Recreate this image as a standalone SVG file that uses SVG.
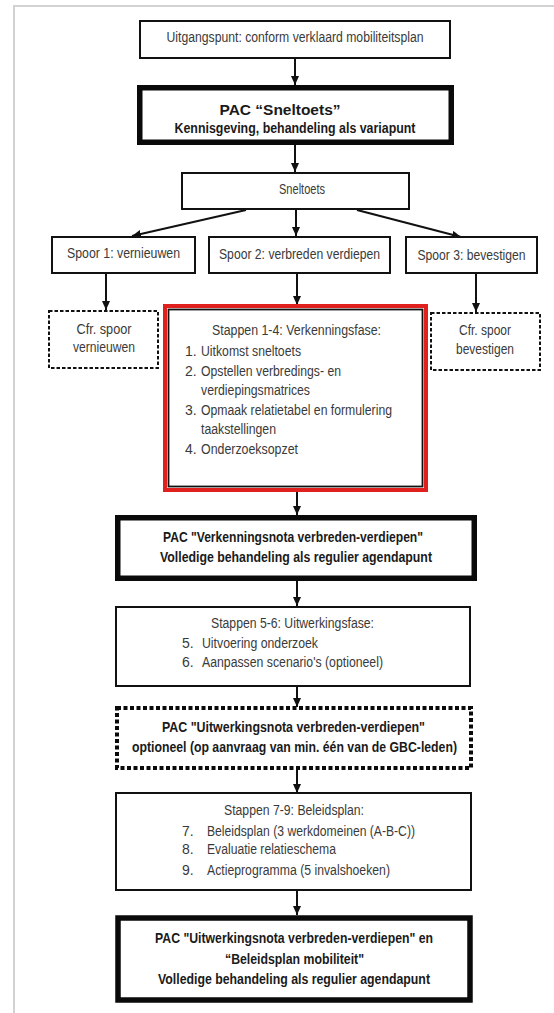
<svg xmlns="http://www.w3.org/2000/svg" width="554" height="1013" viewBox="0 0 554 1013">
<style>
.bx{fill:#fff;stroke:#111;stroke-width:2}
.thick{fill:#fff;stroke:#0a0a0a;stroke-width:5.5}
.dash{fill:#fff;stroke:#111;stroke-width:2;stroke-dasharray:3.5 2}
.dot{fill:#fff;stroke:#0a0a0a;stroke-width:4;stroke-dasharray:4 2.5}
.t{font-family:"Liberation Sans",Arial,sans-serif;font-size:14px;fill:#3a3a3a}
.b{font-family:"Liberation Sans",Arial,sans-serif;font-size:14px;font-weight:bold;fill:#1a1a1a}
.c{text-anchor:middle}
.ln{stroke:#111;stroke-width:2;fill:none}
.frame{stroke:#d2d2d2;stroke-width:2;fill:none}
</style>
<defs>
<marker id="ah" markerUnits="userSpaceOnUse" markerWidth="9" markerHeight="8" refX="9" refY="4" orient="auto">
<path d="M0,0 L9,4 L0,8 z" fill="#111"/>
</marker>
</defs>
<rect x="0" y="0" width="554" height="1013" fill="#fff"/>
<path class="frame" d="M14,1013 L14,6 L554,6"/>

<g id="connectors">
<line class="ln" x1="295" y1="59" x2="295" y2="85" marker-end="url(#ah)"/>
<line class="ln" x1="295" y1="145" x2="295" y2="172" marker-end="url(#ah)"/>
<line class="ln" x1="246" y1="210" x2="132" y2="236" marker-end="url(#ah)"/>
<line class="ln" x1="296" y1="210" x2="296" y2="236" marker-end="url(#ah)"/>
<line class="ln" x1="357" y1="210" x2="461" y2="237" marker-end="url(#ah)"/>
<line class="ln" x1="106" y1="274" x2="106" y2="310" marker-end="url(#ah)"/>
<line class="ln" x1="297" y1="274" x2="297" y2="305" marker-end="url(#ah)"/>
<line class="ln" x1="476" y1="274" x2="476" y2="312" marker-end="url(#ah)"/>
<line class="ln" x1="297" y1="492" x2="297" y2="515" marker-end="url(#ah)"/>
<line class="ln" x1="297" y1="581" x2="297" y2="606" marker-end="url(#ah)"/>
<line class="ln" x1="297" y1="687" x2="297" y2="707" marker-end="url(#ah)"/>
<line class="ln" x1="297" y1="770" x2="297" y2="793" marker-end="url(#ah)"/>
<line class="ln" x1="297" y1="891" x2="297" y2="915" marker-end="url(#ah)"/>
</g>

<g id="n1">
<rect class="bx" x="140" y="21" width="310" height="37"/>
<text class="t c" x="295" y="42" textLength="257" lengthAdjust="spacingAndGlyphs">Uitgangspunt: conform verklaard mobiliteitsplan</text>
</g>

<g id="n2">
<rect class="thick" x="139.75" y="87.75" width="311.5" height="54.5"/>
<text class="b c" x="280" y="115" textLength="121" lengthAdjust="spacingAndGlyphs">PAC “Sneltoets”</text>
<text class="b c" x="295" y="133" textLength="241" lengthAdjust="spacingAndGlyphs">Kennisgeving, behandeling als variapunt</text>
</g>

<g id="n3">
<rect class="bx" x="182" y="173" width="227" height="36"/>
<text class="t c" x="302" y="194" font-size="13" textLength="46" lengthAdjust="spacingAndGlyphs">Sneltoets</text>
</g>

<g id="n4">
<rect class="bx" x="52" y="237" width="143" height="36"/>
<text class="t c" x="123.5" y="258" textLength="113" lengthAdjust="spacingAndGlyphs">Spoor 1: vernieuwen</text>
</g>

<g id="n5">
<rect class="bx" x="209" y="237" width="181" height="36"/>
<text class="t c" x="299.5" y="259" textLength="161" lengthAdjust="spacingAndGlyphs">Spoor 2: verbreden verdiepen</text>
</g>

<g id="n6">
<rect class="bx" x="406" y="237" width="131" height="36"/>
<text class="t c" x="471.5" y="260" textLength="108" lengthAdjust="spacingAndGlyphs">Spoor 3: bevestigen</text>
</g>

<g id="n7">
<rect class="dash" x="49" y="311" width="109" height="57"/>
<text class="t c" x="104" y="334" textLength="55" lengthAdjust="spacingAndGlyphs">Cfr. spoor</text>
<text class="t c" x="104" y="352" textLength="62" lengthAdjust="spacingAndGlyphs">vernieuwen</text>
</g>

<g id="n8">
<rect class="dash" x="431" y="313" width="109" height="57"/>
<text class="t c" x="485" y="335" textLength="52" lengthAdjust="spacingAndGlyphs">Cfr. spoor</text>
<text class="t c" x="485" y="354" textLength="58" lengthAdjust="spacingAndGlyphs">bevestigen</text>
</g>

<g id="n9">
<rect x="165" y="306" width="261" height="184" fill="#fff" stroke="#e0201c" stroke-width="4"/>
<rect x="168.5" y="309.5" width="254" height="177" fill="none" stroke="#111" stroke-width="1.8"/>
<text class="t c" x="296.5" y="335" textLength="169" lengthAdjust="spacingAndGlyphs">Stappen 1-4: Verkenningsfase:</text>
<text class="t" x="185" y="356">1.</text>
<text class="t" x="201" y="356" textLength="100" lengthAdjust="spacingAndGlyphs">Uitkomst sneltoets</text>
<text class="t" x="185" y="376">2.</text>
<text class="t" x="201" y="376" textLength="140" lengthAdjust="spacingAndGlyphs">Opstellen verbredings- en</text>
<text class="t" x="201" y="395" textLength="109" lengthAdjust="spacingAndGlyphs">verdiepingsmatrices</text>
<text class="t" x="185" y="415">3.</text>
<text class="t" x="201" y="415" textLength="191" lengthAdjust="spacingAndGlyphs">Opmaak relatietabel en formulering</text>
<text class="t" x="201" y="434" textLength="75" lengthAdjust="spacingAndGlyphs">taakstellingen</text>
<text class="t" x="185" y="454">4.</text>
<text class="t" x="201" y="454" textLength="97" lengthAdjust="spacingAndGlyphs">Onderzoeksopzet</text>
</g>

<g id="n10">
<rect class="thick" x="117.75" y="517.75" width="356.5" height="60.5" stroke-width="6"/>
<text class="b c" x="293" y="542" textLength="260" lengthAdjust="spacingAndGlyphs">PAC "Verkenningsnota verbreden-verdiepen"</text>
<text class="b c" x="296" y="562" textLength="272" lengthAdjust="spacingAndGlyphs">Volledige behandeling als regulier agendapunt</text>
</g>

<g id="n11">
<rect class="bx" x="116" y="607" width="354" height="79"/>
<text class="t c" x="292.5" y="628" textLength="163" lengthAdjust="spacingAndGlyphs">Stappen 5-6: Uitwerkingsfase:</text>
<text class="t" x="182" y="648">5.</text>
<text class="t" x="202" y="648" textLength="116" lengthAdjust="spacingAndGlyphs">Uitvoering onderzoek</text>
<text class="t" x="182" y="667">6.</text>
<text class="t" x="202" y="667" textLength="181" lengthAdjust="spacingAndGlyphs">Aanpassen scenario's (optioneel)</text>
</g>

<g id="n12">
<rect class="dot" x="117" y="708" width="354" height="60"/>
<text class="b c" x="293.5" y="732" textLength="263" lengthAdjust="spacingAndGlyphs">PAC  "Uitwerkingsnota verbreden-verdiepen"</text>
<text class="b c" x="294.5" y="752" textLength="325" lengthAdjust="spacingAndGlyphs">optioneel (op aanvraag van min. één van de GBC-leden)</text>
</g>

<g id="n13">
<rect class="bx" x="116" y="793" width="355" height="97"/>
<text class="t c" x="294" y="815" textLength="140" lengthAdjust="spacingAndGlyphs">Stappen 7-9: Beleidsplan:</text>
<text class="t" x="182" y="836">7.</text>
<text class="t" x="207" y="836" textLength="208" lengthAdjust="spacingAndGlyphs">Beleidsplan (3 werkdomeinen (A-B-C))</text>
<text class="t" x="182" y="854">8.</text>
<text class="t" x="207" y="854" textLength="129" lengthAdjust="spacingAndGlyphs">Evaluatie relatieschema</text>
<text class="t" x="182" y="875">9.</text>
<text class="t" x="207" y="875" textLength="183" lengthAdjust="spacingAndGlyphs">Actieprogramma (5 invalshoeken)</text>
</g>

<g id="n14">
<rect class="thick" x="118" y="918" width="352" height="82" stroke-width="6"/>
<text class="b c" x="294" y="943" textLength="278" lengthAdjust="spacingAndGlyphs">PAC "Uitwerkingsnota verbreden-verdiepen" en</text>
<text class="b c" x="294.5" y="964" textLength="139" lengthAdjust="spacingAndGlyphs">“Beleidsplan mobiliteit"</text>
<text class="b c" x="294" y="984" textLength="272" lengthAdjust="spacingAndGlyphs">Volledige behandeling als regulier agendapunt</text>
</g>
</svg>
